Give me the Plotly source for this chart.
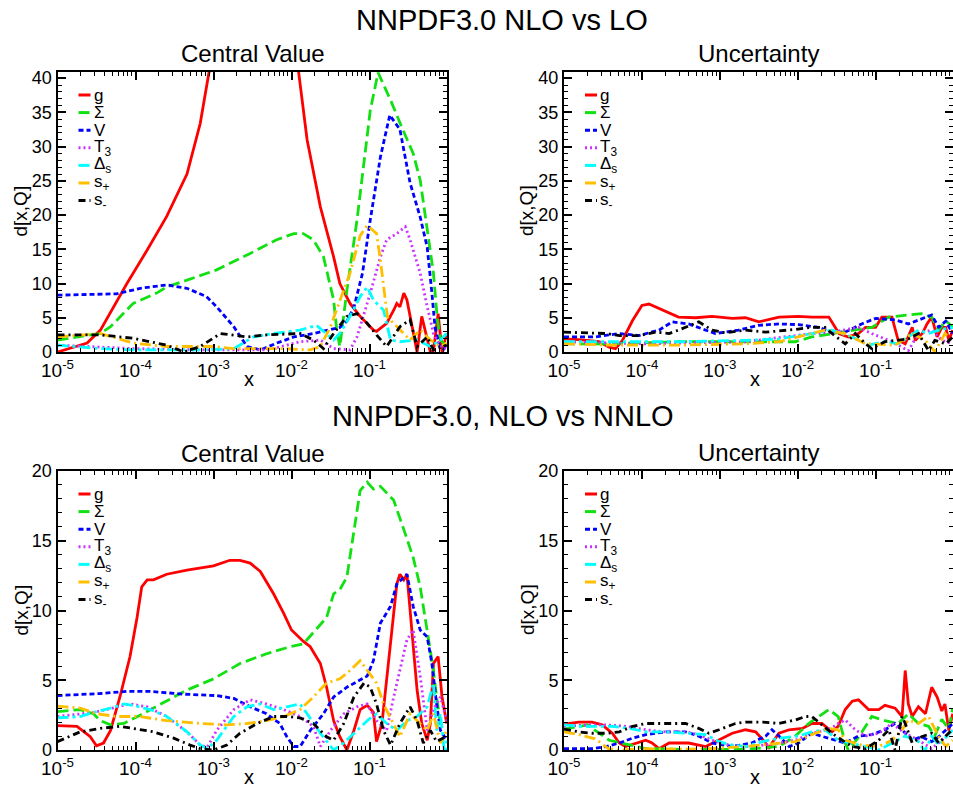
import plotly.graph_objects as go

FONT = "Liberation Sans, Arial, sans-serif"

# ---------------- NNPDF3.0 NLO vs LO : Central Value (log10 x, value) ----------------
lo_cv_g_lx = [-5, -4.62, -4.45, -4.28, -4.11, -3.85, -3.6, -3.34, -3.17, -3.06, -3.0, -2.7, -2.4, -2.1, -1.91, -1.80, -1.63, -1.46, -1.38, -1.25, -1.12, -0.95, -0.91, -0.78, -0.69, -0.65, -0.61, -0.56, -0.52, -0.44, -0.39, -0.33, -0.26, -0.22, -0.18, -0.12, -0.07, -0.01]
lo_cv_g_y = [0, 1.3, 3.2, 6.6, 10, 14.9, 19.8, 26, 33.4, 40.7, 44, 58, 63, 55, 41, 31, 21.2, 13.9, 10, 7.1, 5.2, 3.2, 3.0, 4.2, 6.1, 7.1, 6.6, 8.6, 7.6, 2.7, 0, 5.2, 1.8, 0, 0.2, 5.6, 0, 2.7]
lo_cv_S_lx = [-5, -4.45, -4.32, -4.03, -3.73, -3.6, -3.34, -2.96, -2.53, -2.19, -1.97, -1.85, -1.72, -1.59, -1.46, -1.42, -1.38, -1.29, -1.16, -0.99, -0.89, -0.73, -0.57, -0.44, -0.35, -0.26, -0.18, -0.13, -0.09, -0.01]
lo_cv_S_y = [1.75, 2.7, 3.7, 7.1, 8.6, 9.5, 10.5, 12, 14.4, 16.4, 17.3, 17.3, 16.4, 13.9, 7.6, 3.2, 0.8, 9.0, 19.3, 35.3, 40.8, 36.8, 32.4, 29.0, 25.1, 18.2, 11.5, 4.7, 1.75, 0.8]
lo_cv_V_lx = [-5, -4.24, -3.94, -3.6, -3.34, -3.09, -2.96, -2.74, -2.57, -2.4, -2.19, -1.97, -1.72, -1.55, -1.38, -1.29, -1.2, -1.09, -0.99, -0.86, -0.74, -0.61, -0.48, -0.35, -0.26, -0.2, -0.16, -0.1, -0.05, -0.01]
lo_cv_V_y = [8.3, 8.5, 9.3, 9.8, 9.3, 8.1, 6.6, 3.7, 0.8, 0.3, 1.3, 2.2, 2.7, 3.2, 3.6, 4.5, 6.5, 11.5, 19.3, 28.5, 34.6, 32.5, 24.7, 19.7, 15.3, 8.6, 3.6, 0.8, 0.4, 1.3]
lo_cv_T3_lx = [-5, -4.03, -3.17, -2.3, -1.89, -1.63, -1.46, -1.25, -1.16, -1.08, -0.99, -0.86, -0.78, -0.65, -0.54, -0.48, -0.44, -0.35, -0.26, -0.18, -0.09, -0.01]
lo_cv_T3_y = [1.0, 0.5, 0.3, 0.3, 1.5, 1.75, 0.5, 0.3, 2.2, 5.2, 8.6, 13.9, 16.4, 17.3, 18.3, 16.4, 14.9, 11.5, 6.6, 2.7, 0.8, 0.5]
lo_cv_Ds_lx = [-5, -4.45, -4.03, -3.17, -2.74, -2.49, -2.23, -1.89, -1.68, -1.46, -1.38, -1.25, -1.12, -1.03, -0.95, -0.82, -0.73, -0.61, -0.39, -0.22, -0.09, -0.01]
lo_cv_Ds_y = [1.0, 0.5, 0.3, 0.3, 0.5, 2.2, 2.7, 3.2, 3.9, 1.75, 2.7, 5.2, 8.1, 9.5, 7.6, 6.1, 1.75, 1.5, 1.75, 0.8, 1.75, 2.7]
lo_cv_sp_lx = [-5, -4.45, -4.03, -3.6, -3.0, -2.74, -2.1, -1.76, -1.63, -1.5, -1.38, -1.25, -1.12, -1.03, -0.91, -0.86, -0.77, -0.64, -0.48, -0.35, -0.22, -0.09, -0.01]
lo_cv_sp_y = [2.2, 2.7, 1.3, 0.8, 0.8, 0.5, 0.5, 0.3, 0.8, 3.7, 7.5, 11.5, 17.0, 18.5, 17.3, 13.4, 5.1, 3.6, 1.75, 3.2, 1.75, 0.8, 1.3]
lo_cv_sm_lx = [-5, -4.45, -4.03, -3.6, -3.38, -3.17, -2.91, -2.74, -2.57, -2.32, -1.89, -1.72, -1.59, -1.46, -1.29, -1.16, -1.03, -0.91, -0.78, -0.61, -0.48, -0.39, -0.26, -0.18, -0.01]
lo_cv_sm_y = [2.5, 2.5, 2.0, 1.0, 0, 0.8, 2.7, 2.5, 2.2, 2.5, 2.7, 1.75, 0.5, 2.7, 5.2, 5.6, 4.2, 2.5, 0.8, 3.7, 4.7, 0.8, 2.2, 0.3, 1.0]

# ---------------- NNPDF3.0 NLO vs LO : Uncertainty ----------------
lo_un_g_lx = [-5, -4.81, -4.55, -4.42, -4.34, -4.25, -4.12, -4.0, -3.91, -3.74, -3.53, -3.31, -3.1, -2.84, -2.67, -2.5, -2.24, -1.99, -1.82, -1.6, -1.47, -1.35, -1.22, -1.13, -1.0, -0.92, -0.79, -0.71, -0.62, -0.53, -0.49, -0.4, -0.34, -0.28, -0.21, -0.15, -0.1, -0.06, -0.01]
lo_un_g_y = [1.9, 1.8, 1.5, 0.7, 0.5, 1.7, 4.6, 6.8, 7.0, 6.1, 5.1, 5.0, 5.2, 4.9, 5.0, 4.4, 5.1, 5.2, 5.1, 5.1, 2.7, 2.2, 2.7, 3.6, 3.6, 5.1, 5.1, 1.7, 1.2, 3.6, 1.7, 2.7, 4.1, 5.1, 2.2, 3.6, 3.6, 1.7, 3.2]
lo_un_S_lx = [-5, -4.4, -3.53, -2.67, -2.03, -1.82, -1.56, -1.3, -1.05, -0.83, -0.62, -0.41, -0.28, -0.19, -0.1, -0.01]
lo_un_S_y = [1.2, 1.2, 1.5, 1.5, 1.5, 2.2, 2.7, 3.2, 3.6, 5.1, 5.4, 5.6, 5.1, 3.2, 4.6, 3.6]
lo_un_V_lx = [-5, -4.59, -4.3, -4.04, -3.78, -3.61, -3.4, -3.27, -3.06, -2.76, -2.5, -2.24, -1.99, -1.73, -1.56, -1.39, -1.18, -1.0, -0.75, -0.58, -0.41, -0.28, -0.19, -0.1, -0.01]
lo_un_V_y = [2.2, 2.2, 2.7, 2.4, 3.2, 4.4, 4.1, 3.6, 2.7, 3.2, 3.9, 4.1, 4.0, 3.6, 2.9, 2.9, 4.1, 4.9, 4.7, 4.1, 4.8, 5.4, 3.6, 4.5, 2.7]
lo_un_T3_lx = [-5, -3.95, -2.67, -1.82, -1.56, -1.35, -1.22, -1.05, -0.83, -0.71, -0.58, -0.45, -0.28, -0.15, -0.01]
lo_un_T3_y = [1.5, 1.2, 1.5, 2.7, 2.9, 3.4, 3.6, 2.7, 1.7, 1.0, 0.2, 2.7, 3.2, 1.7, 1.2]
lo_un_Ds_lx = [-5, -4.4, -3.53, -2.67, -2.24, -1.82, -1.56, -1.3, -1.09, -0.88, -0.71, -0.58, -0.45, -0.32, -0.19, -0.01]
lo_un_Ds_y = [1.5, 1.5, 1.5, 1.7, 1.9, 2.7, 3.2, 2.2, 1.0, 1.5, 1.2, 2.2, 3.2, 2.7, 3.2, 3.6]
lo_un_sp_lx = [-5, -4.4, -3.53, -2.67, -2.24, -1.82, -1.65, -1.39, -1.13, -0.75, -0.53, -0.36, -0.24, -0.11, -0.01]
lo_un_sp_y = [1.2, 1.0, 1.0, 1.2, 1.5, 2.7, 3.2, 2.7, 1.2, 1.0, 2.7, 1.7, 0.0, 2.7, 1.7]
lo_un_sm_lx = [-5, -4.46, -4.29, -4.04, -3.82, -3.65, -3.53, -3.27, -3.1, -2.93, -2.67, -2.41, -2.03, -1.82, -1.65, -1.56, -1.39, -1.26, -1.13, -1.05, -0.88, -0.71, -0.58, -0.45, -0.32, -0.24, -0.1, -0.01]
lo_un_sm_y = [2.9, 2.7, 2.4, 2.4, 2.9, 2.7, 3.2, 4.4, 3.2, 2.8, 3.2, 2.9, 3.3, 3.6, 3.6, 2.7, 1.2, 2.7, 1.2, 0.5, 1.5, 1.7, 1.9, 2.7, 0.2, 1.7, 1.2, 2.2]

# ---------------- NNPDF3.0, NLO vs NNLO : Central Value ----------------
nn_cv_g_lx = [-5, -4.75, -4.58, -4.5, -4.41, -4.32, -4.2, -4.07, -3.98, -3.92, -3.85, -3.77, -3.6, -3.34, -3.0, -2.79, -2.66, -2.53, -2.4, -2.23, -2.1, -2.0, -1.85, -1.76, -1.63, -1.55, -1.46, -1.38, -1.29, -1.2, -1.12, -1.03, -0.95, -0.91, -0.84, -0.76, -0.65, -0.61, -0.56, -0.52, -0.46, -0.39, -0.33, -0.26, -0.22, -0.18, -0.12, -0.07, -0.01]
nn_cv_g_y = [1.75, 1.7, 0.95, 0.3, 0.5, 1.4, 3.8, 6.7, 9.5, 11.7, 12.2, 12.2, 12.6, 12.9, 13.2, 13.6, 13.6, 13.4, 12.8, 11.2, 9.8, 8.6, 7.8, 7.4, 6.2, 4.5, 2.1, 0.95, 0.0, 1.4, 2.9, 3.2, 2.7, 0.6, 1.9, 6.2, 11.9, 12.6, 12.2, 12.6, 8.6, 4.3, 1.9, 0.7, 1.9, 6.2, 6.7, 3.8, 1.9]
nn_cv_S_lx = [-5, -4.71, -4.54, -4.45, -4.32, -4.15, -3.94, -3.68, -3.34, -3.0, -2.66, -2.32, -2.02, -1.85, -1.72, -1.55, -1.46, -1.38, -1.29, -1.2, -1.12, -1.03, -0.95, -0.86, -0.69, -0.56, -0.44, -0.35, -0.26, -0.18, -0.14, -0.09, -0.01]
nn_cv_S_y = [2.75, 2.9, 2.6, 2.1, 1.8, 1.9, 2.5, 3.3, 4.3, 5.1, 6.2, 6.9, 7.4, 7.6, 8.4, 9.5, 11.2, 11.5, 12.4, 15.8, 18.6, 19.2, 18.7, 18.9, 17.9, 15.8, 13.8, 11.7, 8.6, 5.7, 3.8, 1.9, 2.1]
nn_cv_V_lx = [-5, -4.45, -4.11, -3.81, -3.38, -2.96, -2.74, -2.53, -2.32, -2.15, -2.06, -1.97, -1.89, -1.76, -1.59, -1.46, -1.29, -1.16, -1.03, -0.95, -0.86, -0.73, -0.65, -0.52, -0.44, -0.35, -0.26, -0.2, -0.14, -0.09, -0.01]
nn_cv_V_y = [3.9, 4.05, 4.2, 4.2, 4.0, 3.9, 3.7, 3.1, 2.6, 1.9, 0.95, 0.25, 0.25, 1.4, 2.6, 3.8, 4.5, 4.9, 5.3, 6.4, 9.1, 10.3, 11.9, 12.6, 10.3, 8.6, 8.1, 6.2, 3.3, 1.4, 0.7]
nn_cv_T3_lx = [-5, -4.53, -4.07, -3.85, -3.6, -3.34, -3.17, -3.08, -2.96, -2.74, -2.53, -2.32, -2.1, -1.89, -1.72, -1.63, -1.5, -1.33, -1.16, -1.03, -0.91, -0.78, -0.69, -0.61, -0.52, -0.44, -0.35, -0.26, -0.18, -0.09, -0.01]
nn_cv_T3_y = [2.4, 2.7, 3.3, 3.1, 2.4, 1.3, 0.35, 0.2, 1.4, 2.9, 3.6, 3.3, 2.9, 2.4, 1.7, 0.25, 1.4, 2.6, 3.1, 3.3, 2.1, 1.4, 3.8, 5.7, 7.9, 8.6, 5.3, 1.4, 2.9, 3.8, 2.1]
nn_cv_Ds_lx = [-5, -4.71, -4.54, -4.32, -4.15, -4.03, -3.81, -3.6, -3.34, -3.17, -3.08, -2.96, -2.74, -2.57, -2.4, -2.23, -2.06, -1.89, -1.8, -1.63, -1.46, -1.33, -1.16, -1.03, -0.91, -0.78, -0.65, -0.52, -0.39, -0.26, -0.18, -0.14, -0.09, -0.03, -0.01]
nn_cv_Ds_y = [2.3, 2.4, 2.7, 3.0, 3.3, 3.2, 2.9, 2.4, 1.3, 0.35, 0.1, 0.7, 2.4, 3.1, 3.3, 2.9, 3.1, 3.3, 2.6, 1.2, 0.0, 0.5, 1.4, 2.1, 2.6, 1.9, 1.4, 2.1, 2.4, 3.1, 4.8, 1.4, 2.6, -0.7, 0.7]
nn_cv_sp_lx = [-5, -4.71, -4.5, -4.24, -3.94, -3.6, -3.17, -2.83, -2.57, -2.32, -2.1, -1.89, -1.72, -1.55, -1.38, -1.25, -1.12, -1.03, -0.91, -0.82, -0.69, -0.61, -0.48, -0.35, -0.26, -0.18, -0.09, -0.01]
nn_cv_sp_y = [3.15, 3.0, 2.6, 2.4, 2.4, 2.1, 1.9, 1.8, 1.9, 2.1, 2.4, 2.9, 3.8, 4.8, 5.1, 5.7, 6.4, 5.7, 4.8, 3.3, 1.9, 0.95, 2.6, 1.9, 1.4, 2.6, 0.5, 1.4]
nn_cv_sm_lx = [-5, -4.71, -4.45, -4.2, -4.03, -3.77, -3.51, -3.3, -3.17, -3.0, -2.83, -2.66, -2.44, -2.23, -2.06, -1.89, -1.72, -1.55, -1.46, -1.33, -1.2, -1.07, -0.99, -0.91, -0.82, -0.73, -0.61, -0.48, -0.39, -0.31, -0.22, -0.14, -0.01]
nn_cv_sm_y = [0.6, 1.3, 1.55, 1.7, 1.55, 1.3, 0.85, 0.35, 0.1, 0.0, 0.35, 1.2, 1.9, 2.4, 2.4, 2.3, 1.9, 0.95, 0.7, 1.9, 3.8, 4.8, 4.5, 3.3, 1.4, 0.35, 1.9, 3.1, 2.1, 0.5, 1.4, 0.6, 1.0]

# ---------------- NNPDF3.0, NLO vs NNLO : Uncertainty ----------------
nn_un_g_lx = [-5, -4.81, -4.64, -4.51, -4.38, -4.29, -4.21, -4.08, -3.95, -3.87, -3.78, -3.65, -3.4, -3.18, -3.01, -2.84, -2.67, -2.54, -2.41, -2.37, -2.33, -2.24, -2.11, -1.94, -1.82, -1.69, -1.56, -1.48, -1.39, -1.3, -1.22, -1.09, -0.96, -0.88, -0.75, -0.66, -0.62, -0.58, -0.53, -0.45, -0.36, -0.28, -0.21, -0.15, -0.11, -0.06, -0.01]
nn_un_g_y = [1.85, 2.0, 2.0, 1.8, 1.2, 0.5, 0.25, 0.5, 0.7, 0.5, 0.1, 0.5, 0.5, 0.25, 0.7, 1.2, 1.45, 1.3, 0.5, 0.1, 0.5, 1.2, 1.45, 1.55, 1.9, 1.9, 1.3, 1.7, 2.9, 3.5, 3.6, 2.9, 2.9, 3.2, 3.0, 2.4, 5.7, 3.3, 2.4, 3.1, 2.6, 4.5, 3.8, 2.8, 3.3, 1.4, 2.6]
nn_un_S_lx = [-5, -4.7, -4.42, -4.2, -3.95, -3.5, -2.67, -2.24, -2.03, -1.86, -1.73, -1.6, -1.48, -1.39, -1.35, -1.22, -1.05, -0.88, -0.71, -0.58, -0.45, -0.32, -0.24, -0.15, -0.06, -0.01]
nn_un_S_y = [1.5, 1.8, 0.7, 0.4, 0.1, 0.05, 0.05, 0.25, 1.0, 1.9, 2.4, 2.9, 2.4, 0.5, 0.0, 0.9, 2.4, 2.1, 1.9, 2.6, 1.9, 1.7, 1.0, 2.2, 1.5, 3.0]
nn_un_V_lx = [-5, -4.62, -4.46, -4.29, -4.12, -3.95, -3.69, -3.44, -3.27, -3.1, -2.84, -2.59, -2.41, -2.33, -2.24, -2.11, -1.99, -1.82, -1.61, -1.39, -1.22, -1.05, -0.88, -0.75, -0.66, -0.53, -0.41, -0.28, -0.19, -0.1, -0.01]
nn_un_V_y = [0.1, 0.1, 0.25, 0.5, 0.85, 1.1, 1.3, 1.3, 1.0, 0.5, 0.25, 0.5, 1.0, 1.45, 1.0, 0.25, 0.5, 1.2, 0.85, 0.5, 1.0, 1.1, 1.45, 1.9, 1.45, 0.7, 0.95, 0.6, 0.95, 1.45, 1.9]
nn_un_T3_lx = [-5, -4.68, -4.46, -4.21, -3.95, -3.69, -3.44, -3.27, -3.1, -2.88, -2.67, -2.45, -2.24, -2.03, -1.82, -1.6, -1.48, -1.39, -1.26, -1.13, -0.96, -0.79, -0.62, -0.45, -0.28, -0.15, -0.01]
nn_un_T3_y = [1.7, 1.8, 1.8, 1.7, 1.45, 1.3, 1.3, 1.1, 0.7, 0.35, 0.25, 0.35, 0.5, 0.7, 1.2, 1.45, 1.9, 2.15, 1.45, 1.0, 1.2, 1.9, 1.2, 0.7, 0.1, 0.7, 1.45]
nn_un_Ds_lx = [-5, -4.81, -4.64, -4.38, -4.16, -3.95, -3.69, -3.44, -3.18, -3.01, -2.84, -2.67, -2.45, -2.24, -1.99, -1.82, -1.65, -1.48, -1.31, -1.13, -0.96, -0.79, -0.62, -0.45, -0.37, -0.28, -0.19, -0.01]
nn_un_Ds_y = [1.8, 1.7, 1.7, 1.7, 1.55, 1.3, 1.3, 1.2, 1.1, 0.6, 0.35, 0.25, 0.6, 0.85, 1.0, 1.3, 1.45, 0.7, 0.5, 0.25, 0.0, 0.5, 1.0, 0.6, -0.1, 1.0, 0.35, 1.45]
nn_un_sp_lx = [-5, -4.81, -4.6, -4.43, -4.3, -3.95, -3.53, -3.1, -2.67, -2.24, -2.03, -1.82, -1.6, -1.48, -1.39, -1.18, -0.96, -0.79, -0.66, -0.58, -0.45, -0.32, -0.19, -0.1, -0.01]
nn_un_sp_y = [1.3, 1.1, 0.8, 0.1, 0.0, 0.1, 0.05, 0.1, 0.25, 0.5, 0.6, 1.1, 1.55, 1.45, 0.7, 0.35, 0.25, 0.7, 1.45, 2.15, 1.9, 2.4, 0.95, 0.25, 0.7]
nn_un_sm_lx = [-5, -4.81, -4.64, -4.46, -4.29, -4.12, -3.95, -3.69, -3.44, -3.27, -3.14, -3.01, -2.8, -2.67, -2.45, -2.24, -2.03, -1.9, -1.82, -1.73, -1.56, -1.43, -1.3, -1.13, -0.96, -0.83, -0.75, -0.66, -0.62, -0.53, -0.41, -0.28, -0.19, -0.1, -0.01]
nn_un_sm_y = [1.5, 1.3, 1.2, 1.2, 1.3, 1.7, 1.9, 1.9, 1.9, 1.55, 1.2, 1.45, 1.9, 2.0, 2.0, 1.9, 2.15, 2.4, 2.4, 2.0, 1.2, 0.7, 0.25, 0.1, 0.7, 1.45, 0.0, 2.4, 1.9, 0.5, 0.95, 1.2, 0.5, 1.0, 1.5]

# ---------------- labels / ticks ----------------
series_labels = ["g", "Σ", "V", "T<sub>3</sub>", "Δ<sub>s</sub>", "s<sub>+</sub>", "s<sub>-</sub>"]
series_colors = ["#ff0000", "#11e011", "#0000ff", "#cc33ff", "#00ffff", "#ffbf00", "#000000"]
series_dashes = ["solid", "11px,5px", "5px,3px", "2px,3px", "11px,4px,3px,4px", "11px,4px,2px,4px", "7px,4px,2px,4px"]
x_tick_vals = [1e-5, 1e-4, 1e-3, 1e-2, 1e-1]
x_tick_text = ["10<sup>-5</sup>", "10<sup>-4</sup>", "10<sup>-3</sup>", "10<sup>-2</sup>", "10<sup>-1</sup>"]
main_titles = ["NNPDF3.0 NLO vs LO", "NNPDF3.0, NLO vs NNLO"]
panel_titles = ["Central Value", "Uncertainty"]

panels = [
    [(lo_cv_g_lx, lo_cv_g_y), (lo_cv_S_lx, lo_cv_S_y), (lo_cv_V_lx, lo_cv_V_y), (lo_cv_T3_lx, lo_cv_T3_y),
     (lo_cv_Ds_lx, lo_cv_Ds_y), (lo_cv_sp_lx, lo_cv_sp_y), (lo_cv_sm_lx, lo_cv_sm_y)],
    [(lo_un_g_lx, lo_un_g_y), (lo_un_S_lx, lo_un_S_y), (lo_un_V_lx, lo_un_V_y), (lo_un_T3_lx, lo_un_T3_y),
     (lo_un_Ds_lx, lo_un_Ds_y), (lo_un_sp_lx, lo_un_sp_y), (lo_un_sm_lx, lo_un_sm_y)],
    [(nn_cv_g_lx, nn_cv_g_y), (nn_cv_S_lx, nn_cv_S_y), (nn_cv_V_lx, nn_cv_V_y), (nn_cv_T3_lx, nn_cv_T3_y),
     (nn_cv_Ds_lx, nn_cv_Ds_y), (nn_cv_sp_lx, nn_cv_sp_y), (nn_cv_sm_lx, nn_cv_sm_y)],
    [(nn_un_g_lx, nn_un_g_y), (nn_un_S_lx, nn_un_S_y), (nn_un_V_lx, nn_un_V_y), (nn_un_T3_lx, nn_un_T3_y),
     (nn_un_Ds_lx, nn_un_Ds_y), (nn_un_sp_lx, nn_un_sp_y), (nn_un_sm_lx, nn_un_sm_y)],
]

W, H = 953, 787
# panel pixel boxes: (left, right, top, bottom)
boxes = [(57.5, 447, 72, 352), (564, 953.5, 72, 352), (57.5, 447, 471, 750), (564, 953.5, 471, 750)]
y_tops = [40.9, 40.9, 20, 20]
sub_title_y = [54, 53, 453, 452]
sub_title_x = [253, 758, 253, 758]

fig = go.Figure()
ax_ids = ["", "2", "3", "4"]

for p, series in enumerate(panels):
    for i, (lx, yv) in enumerate(series):
        fig.add_trace(go.Scatter(
            x=[10 ** v for v in lx], y=yv, mode="lines", name=series_labels[i],
            line=dict(color=series_colors[i], width=2.8, dash=series_dashes[i]),
            xaxis="x" + ax_ids[p], yaxis="y" + ax_ids[p], showlegend=False,
        ))

minor_x = [k * 10.0 ** e for e in range(-5, 0) for k in range(2, 10)]
layout = dict(width=W, height=H, margin=dict(l=0, r=0, t=0, b=0, autoexpand=False),
              paper_bgcolor="white", plot_bgcolor="white", showlegend=False,
              font=dict(family=FONT, color="black"))

annotations = []
shapes = []
for p, (l, r, t, b) in enumerate(boxes):
    xd = [l / W, min(r / W, 1.0)]
    yd = [1 - b / H, 1 - t / H]
    sfx = ax_ids[p]
    top = y_tops[p]
    yticks = list(range(0, int(top) + 1, 5))
    layout["xaxis" + sfx] = dict(
        type="log", domain=xd, anchor="y" + sfx, range=[-5, -5 + (r - l) / 78.0], automargin=False,
        tickvals=x_tick_vals, ticktext=x_tick_text, ticks="inside", ticklen=8, tickwidth=1.5,
        tickcolor="black", showline=True, linecolor="black", linewidth=2, mirror="allticks",
        showgrid=False, zeroline=False, tickfont=dict(size=19, family=FONT, color="black"),
        minor=dict(tickvals=minor_x, ticks="inside", ticklen=4, tickwidth=1, tickcolor="black", showgrid=False),
    )
    layout["yaxis" + sfx] = dict(
        domain=yd, anchor="x" + sfx, range=[0, top], tickvals=yticks, ticks="inside", ticklen=8,
        tickwidth=1.5, tickcolor="black", showline=True, linecolor="black", linewidth=2, automargin=False,
        mirror="allticks", showgrid=False, zeroline=False, tickfont=dict(size=18, family=FONT, color="black"),
        minor=dict(dtick=1, ticks="inside", ticklen=4, tickwidth=1, tickcolor="black", showgrid=False),
    )
    # legend (drawn as sample lines + text), placed inside the panel top-left
    for i, lab in enumerate(series_labels):
        yc = t + 23 + 17.6 * i
        shapes.append(dict(type="line", xref="paper", yref="paper",
                           x0=(l + 21) / W, x1=(l + 33) / W, y0=1 - yc / H, y1=1 - yc / H,
                           line=dict(color=series_colors[i], width=3, dash=series_dashes[i])))
        annotations.append(dict(text=lab, x=(l + 34) / W, y=1 - yc / H, xref="paper", yref="paper",
                                showarrow=False, xanchor="left", yanchor="middle",
                                font=dict(size=17, family=FONT, color="black")))
    # panel title
    annotations.append(dict(text=panel_titles[p % 2], x=sub_title_x[p] / W, y=1 - sub_title_y[p] / H,
                            xref="paper", yref="paper", showarrow=False,
                            font=dict(size=24, family=FONT, color="black"), xanchor="center", yanchor="middle"))
    # axis titles
    annotations.append(dict(text="x", x=(l + 191) / W, y=1 - (b + 27) / H, xref="paper", yref="paper",
                            showarrow=False, font=dict(size=20, family=FONT, color="black"),
                            xanchor="center", yanchor="middle"))
    annotations.append(dict(text="d[x,Q]", x=(l - 37) / W, y=1 - (t + 139) / H, xref="paper", yref="paper",
                            showarrow=False, textangle=-90, font=dict(size=19, family=FONT, color="black"),
                            xanchor="center", yanchor="middle"))

annotations.append(dict(text=main_titles[0], x=502 / W, y=1 - 20 / H, xref="paper", yref="paper",
                        showarrow=False, font=dict(size=29, family=FONT, color="black"),
                        xanchor="center", yanchor="middle"))
annotations.append(dict(text=main_titles[1], x=503 / W, y=1 - 416 / H, xref="paper", yref="paper",
                        showarrow=False, font=dict(size=29, family=FONT, color="black"),
                        xanchor="center", yanchor="middle"))
layout["annotations"] = annotations
layout["shapes"] = shapes
fig.update_layout(**layout)
fig.write_html("out.html", config={"displayModeBar": False},
               post_script="document.body.style.margin='0px';")
